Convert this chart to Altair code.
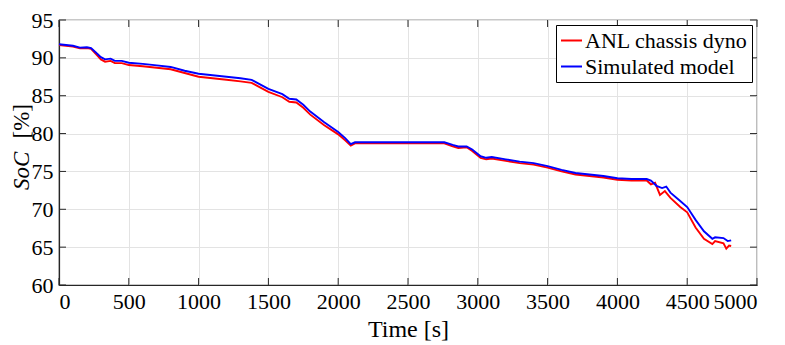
import altair as alt
import pandas as pd

# ---- data ----
time_anl = [0, 100, 150, 200, 230, 270, 300, 330, 370, 400, 450, 500, 600, 700, 800, 900,
            1000, 1100, 1200, 1300, 1380, 1450, 1500, 1600, 1650, 1700, 1750, 1800, 1900,
            2000, 2050, 2090, 2120, 2760, 2820, 2860, 2920, 2960, 3020, 3060, 3100, 3200,
            3300, 3400, 3500, 3600, 3700, 3800, 3900, 4000, 4100, 4210, 4240, 4270, 4305,
            4340, 4380, 4450, 4500, 4560, 4620, 4680, 4700, 4760, 4780, 4800, 4815]
soc_anl = [91.7, 91.5, 91.25, 91.3, 91.2, 90.4, 89.8, 89.5, 89.6, 89.3, 89.3, 89.05, 88.9,
           88.7, 88.5, 88.0, 87.5, 87.3, 87.1, 86.9, 86.7, 86.0, 85.5, 84.8, 84.2, 84.1,
           83.4, 82.5, 81.1, 79.9, 79.1, 78.4, 78.7, 78.7, 78.3, 78.1, 78.2, 77.7, 76.8,
           76.6, 76.7, 76.4, 76.1, 75.9, 75.5, 75.0, 74.6, 74.4, 74.2, 73.9, 73.8, 73.8,
           73.3, 73.5, 71.9, 72.4, 71.5, 70.3, 69.6, 67.6, 66.1, 65.4, 65.8, 65.5, 64.8,
           65.2, 65.15]

time_sim = [0, 100, 150, 200, 230, 270, 300, 330, 370, 400, 450, 500, 600, 700, 800, 900,
            1000, 1100, 1200, 1300, 1380, 1450, 1500, 1600, 1650, 1700, 1750, 1800, 1900,
            2000, 2050, 2090, 2120, 2760, 2820, 2860, 2920, 2960, 3020, 3060, 3100, 3200,
            3300, 3400, 3500, 3600, 3700, 3800, 3900, 4000, 4100, 4210, 4240, 4280, 4320,
            4350, 4380, 4450, 4500, 4560, 4620, 4680, 4700, 4760, 4790, 4815]
soc_sim = [91.8, 91.6, 91.35, 91.4, 91.3, 90.6, 90.1, 89.8, 89.9, 89.6, 89.6, 89.35, 89.2,
           89.0, 88.8, 88.3, 87.9, 87.7, 87.5, 87.3, 87.1, 86.4, 85.9, 85.2, 84.6, 84.5,
           83.8, 82.9, 81.5, 80.2, 79.4, 78.6, 78.85, 78.85, 78.5, 78.3, 78.3, 77.9, 77.0,
           76.8, 76.9, 76.6, 76.3, 76.1, 75.7, 75.2, 74.8, 74.6, 74.4, 74.1, 74.0, 74.0,
           73.8, 73.1, 72.8, 73.0, 72.2, 71.1, 70.3, 68.6, 67.1, 66.1, 66.3, 66.2, 65.8,
           65.9]

series_names = ["ANL chassis dyno", "Simulated model"]
series_colors = ["#FF0000", "#0000FF"]
x_ticks = [0, 500, 1000, 1500, 2000, 2500, 3000, 3500, 4000, 4500, 5000]
y_ticks = [60, 65, 70, 75, 80, 85, 90, 95]
x_title = "Time [s]"
y_title_italic = ["SoC"]
y_title_unit = ["[%]"]

W, H = 698, 265
FONT = "Liberation Serif"
AXIS_COLOR = "#262626"

df = pd.concat([
    pd.DataFrame({"t": time_anl, "soc": soc_anl, "series": series_names[0],
                  "o": range(len(time_anl))}),
    pd.DataFrame({"t": time_sim, "soc": soc_sim, "series": series_names[1],
                  "o": range(len(time_sim))}),
], ignore_index=True)

x_scale = alt.Scale(domain=[0, 5000], nice=False, zero=False)
y_scale = alt.Scale(domain=[60, 95], nice=False, zero=False)
x_axis = alt.Axis(values=x_ticks, title=x_title, format="d",
                  titleY=51, titleBaseline="alphabetic")
y_axis = alt.Axis(values=y_ticks, title=None)

lines = alt.Chart(df).mark_line(strokeWidth=1.9).encode(
    x=alt.X("t:Q", scale=x_scale, axis=x_axis),
    y=alt.Y("soc:Q", scale=y_scale, axis=y_axis),
    color=alt.Color("series:N",
                    scale=alt.Scale(domain=series_names, range=series_colors),
                    legend=alt.Legend(title=None, orient="top-right", offset=5,
                                      strokeColor="black", fillColor="white",
                                      padding=4, symbolType="stroke", symbolSize=441,
                                      symbolStrokeWidth=2, labelFont=FONT,
                                      labelFontSize=22, labelColor="black",
                                      labelOffset=2, rowPadding=3, labelLimit=300)),
    order="o:Q",
)

xt = pd.DataFrame({"v": x_ticks})
yt = pd.DataFrame({"v": y_ticks})
tick_bottom = alt.Chart(xt).mark_rule(color=AXIS_COLOR).encode(
    x=alt.X("v:Q", scale=x_scale, axis=x_axis), y=alt.value(H), y2=alt.value(H - 7))
tick_top = alt.Chart(xt).mark_rule(color=AXIS_COLOR).encode(
    x=alt.X("v:Q", scale=x_scale, axis=x_axis), y=alt.value(0), y2=alt.value(7))
tick_left = alt.Chart(yt).mark_rule(color=AXIS_COLOR).encode(
    y=alt.Y("v:Q", scale=y_scale, axis=y_axis), x=alt.value(0), x2=alt.value(7))
tick_right = alt.Chart(yt).mark_rule(color=AXIS_COLOR).encode(
    y=alt.Y("v:Q", scale=y_scale, axis=y_axis), x=alt.value(W), x2=alt.value(W - 7))

# y-axis title with italic "SoC" and upright "[%]"
title_soc = alt.Chart(pd.DataFrame({"s": y_title_italic})).mark_text(
    font=FONT, fontSize=23, fontStyle="italic", angle=270, align="left",
    baseline="alphabetic", color="black",
).encode(text="s:N", x=alt.value(-30), y=alt.value(H - 95))
title_unit = alt.Chart(pd.DataFrame({"s": y_title_unit})).mark_text(
    font=FONT, fontSize=23, angle=270, align="right",
    baseline="alphabetic", color="black",
).encode(text="s:N", x=alt.value(-30), y=alt.value(H - 181))

chart = alt.layer(lines, tick_bottom, tick_top, tick_left, tick_right,
                  title_soc, title_unit).properties(
    width=W, height=H,
    autosize=alt.AutoSizeParams(type="none"),
    padding={"left": 51, "top": 12, "right": 20, "bottom": 60},
).configure_view(
    stroke=AXIS_COLOR, strokeWidth=1.2
).configure_axis(
    labelFont=FONT, labelFontSize=22, labelColor="black", labelPadding=6,
    titleFont=FONT, titleFontSize=24, titleFontWeight="normal", titleColor="black",
    gridColor="#E3E3E3", gridWidth=1, domainColor=AXIS_COLOR, domainWidth=1.2,
    tickSize=0,
)

chart.save("out.html", embed_options={"renderer": "svg", "actions": False})
